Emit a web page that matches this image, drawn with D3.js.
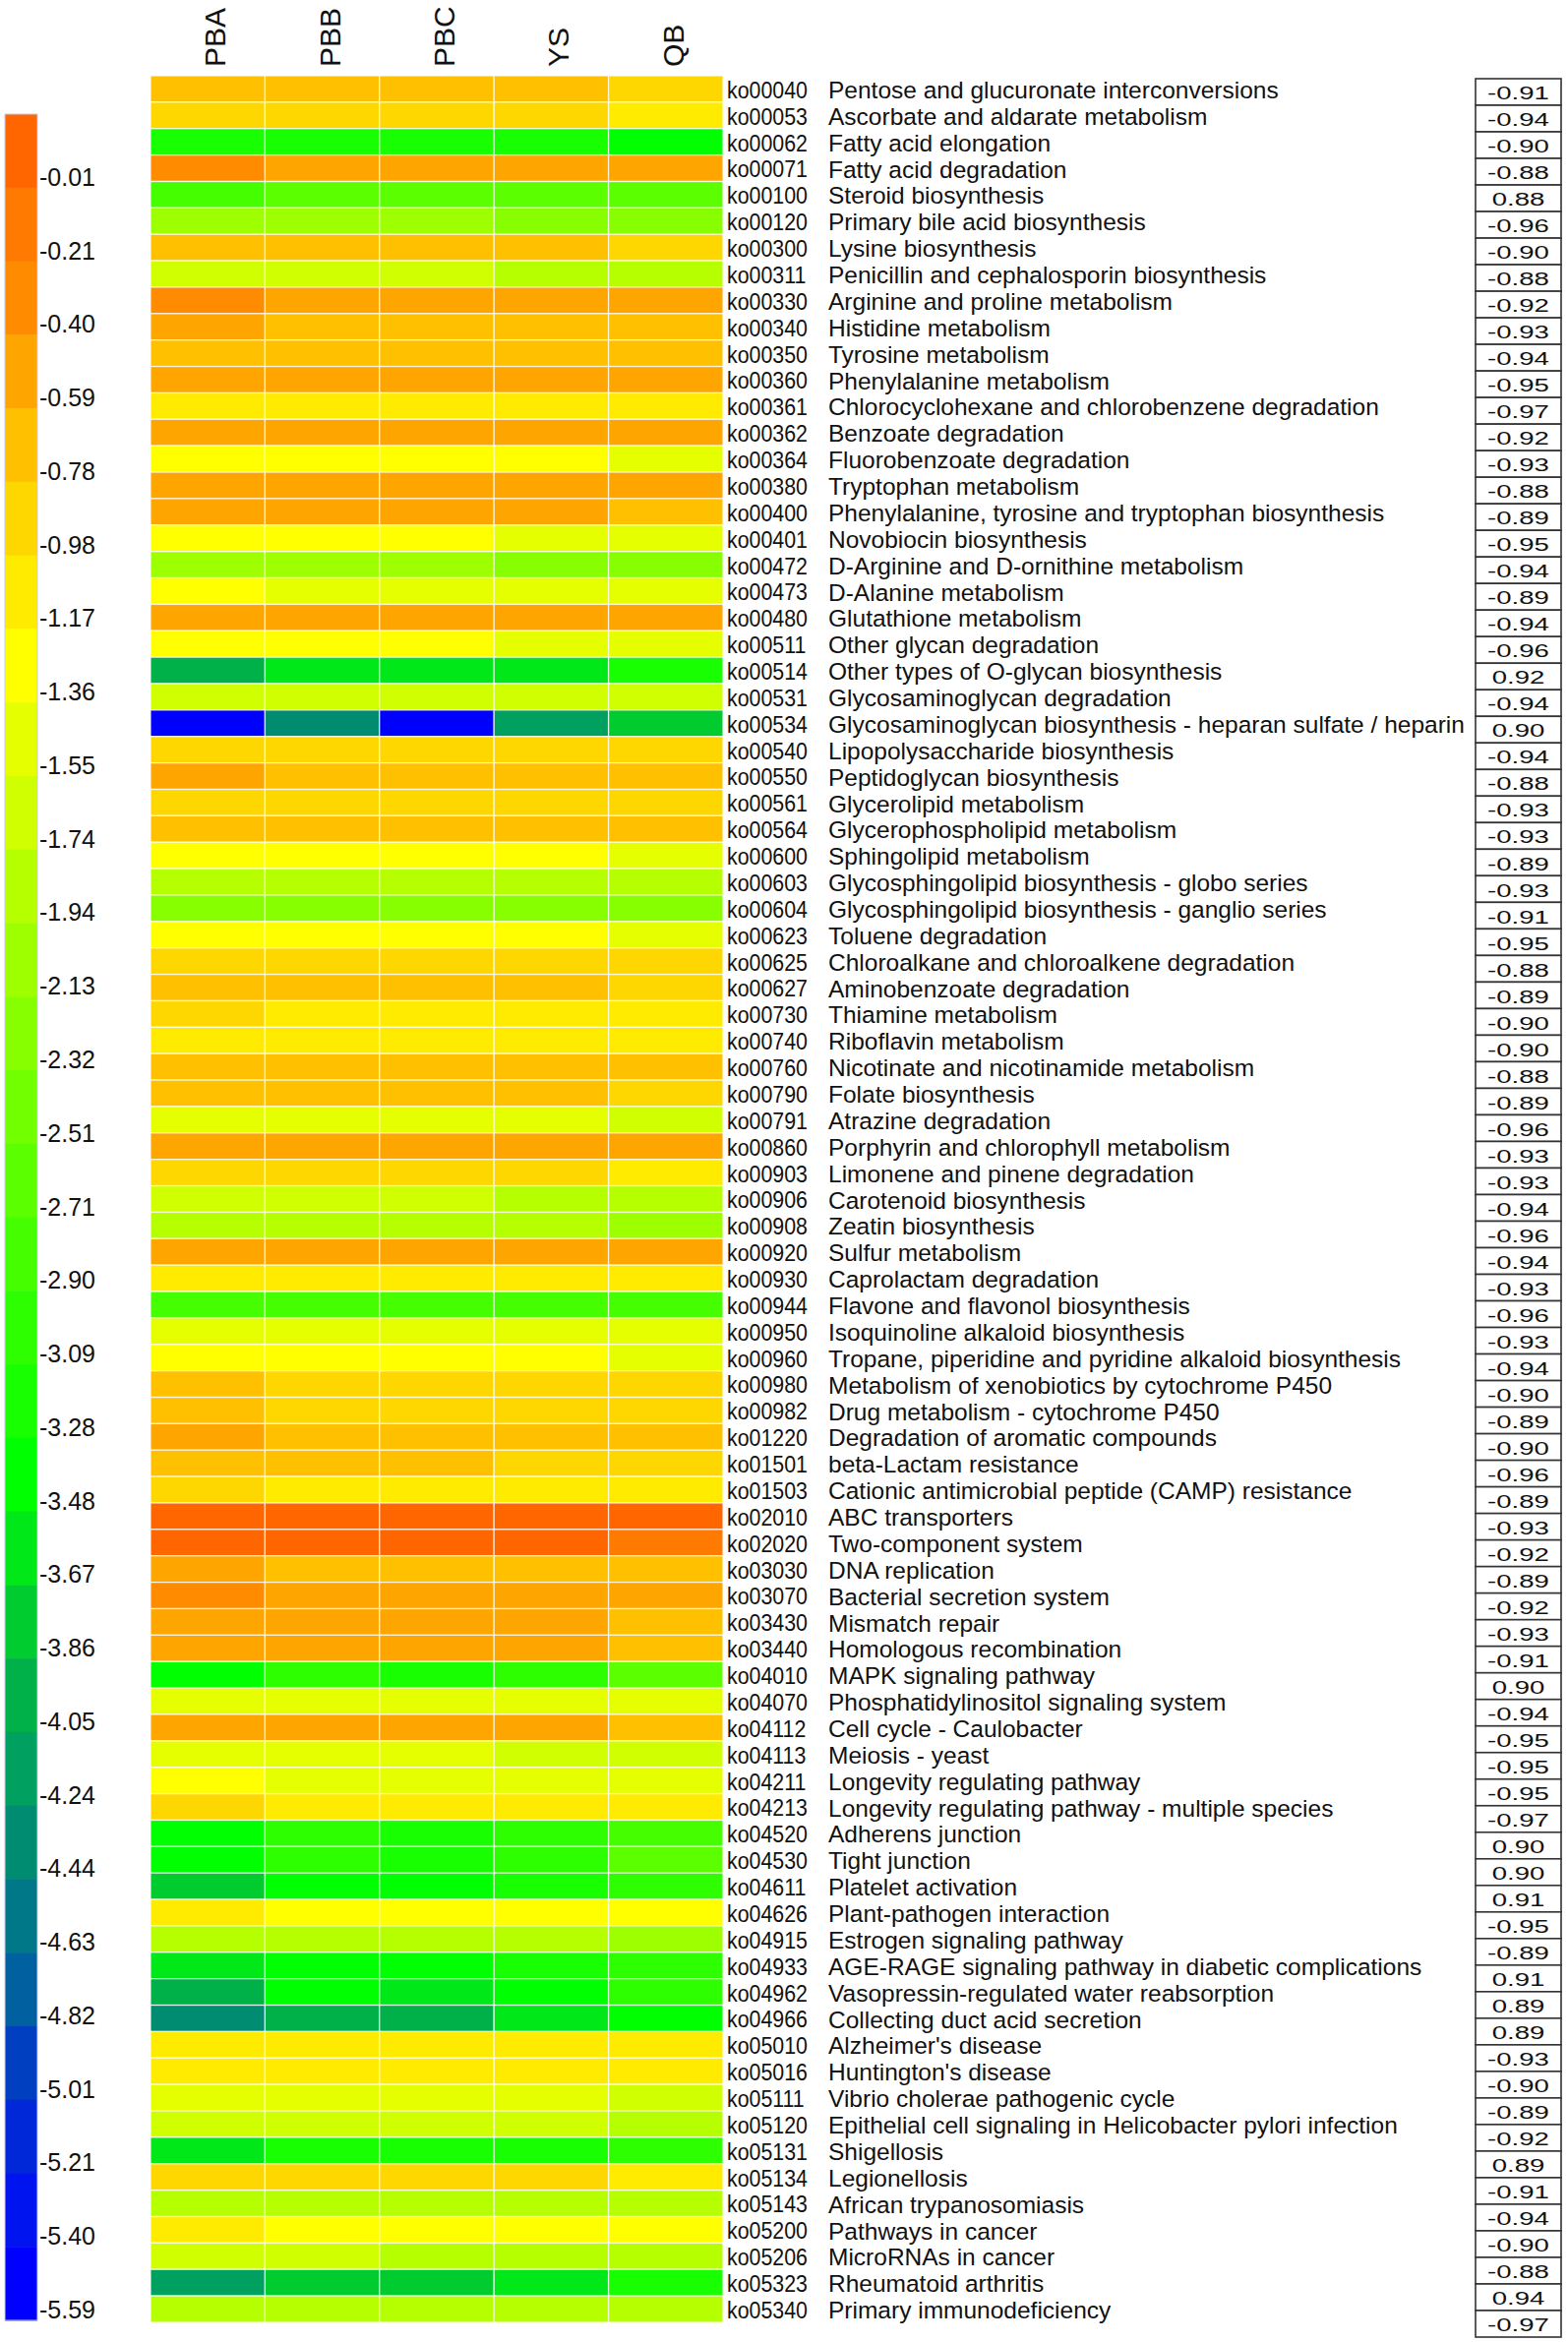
<!DOCTYPE html>
<html><head><meta charset="utf-8">
<script src="https://cdn.jsdelivr.net/npm/d3@7"></script>
<style>html,body{margin:0;padding:0;background:#fff;} svg{display:block;}</style>
</head><body><svg id="chart" width="1594" height="2381"></svg>
<script>
const samples = ["PBA","PBB","PBC","YS","QB"];
const koIds = ["ko00040","ko00053","ko00062","ko00071","ko00100","ko00120","ko00300","ko00311","ko00330","ko00340",
"ko00350","ko00360","ko00361","ko00362","ko00364","ko00380","ko00400","ko00401","ko00472","ko00473",
"ko00480","ko00511","ko00514","ko00531","ko00534","ko00540","ko00550","ko00561","ko00564","ko00600",
"ko00603","ko00604","ko00623","ko00625","ko00627","ko00730","ko00740","ko00760","ko00790","ko00791",
"ko00860","ko00903","ko00906","ko00908","ko00920","ko00930","ko00944","ko00950","ko00960","ko00980",
"ko00982","ko01220","ko01501","ko01503","ko02010","ko02020","ko03030","ko03070","ko03430","ko03440",
"ko04010","ko04070","ko04112","ko04113","ko04211","ko04213","ko04520","ko04530","ko04611","ko04626",
"ko04915","ko04933","ko04962","ko04966","ko05010","ko05016","ko05111","ko05120","ko05131","ko05134",
"ko05143","ko05200","ko05206","ko05323","ko05340"];
const pathways = ["Pentose and glucuronate interconversions","Ascorbate and aldarate metabolism","Fatty acid elongation","Fatty acid degradation","Steroid biosynthesis","Primary bile acid biosynthesis","Lysine biosynthesis","Penicillin and cephalosporin biosynthesis","Arginine and proline metabolism","Histidine metabolism",
"Tyrosine metabolism","Phenylalanine metabolism","Chlorocyclohexane and chlorobenzene degradation","Benzoate degradation","Fluorobenzoate degradation","Tryptophan metabolism","Phenylalanine, tyrosine and tryptophan biosynthesis","Novobiocin biosynthesis","D-Arginine and D-ornithine metabolism","D-Alanine metabolism",
"Glutathione metabolism","Other glycan degradation","Other types of O-glycan biosynthesis","Glycosaminoglycan degradation","Glycosaminoglycan biosynthesis - heparan sulfate / heparin","Lipopolysaccharide biosynthesis","Peptidoglycan biosynthesis","Glycerolipid metabolism","Glycerophospholipid metabolism","Sphingolipid metabolism",
"Glycosphingolipid biosynthesis - globo series","Glycosphingolipid biosynthesis - ganglio series","Toluene degradation","Chloroalkane and chloroalkene degradation","Aminobenzoate degradation","Thiamine metabolism","Riboflavin metabolism","Nicotinate and nicotinamide metabolism","Folate biosynthesis","Atrazine degradation",
"Porphyrin and chlorophyll metabolism","Limonene and pinene degradation","Carotenoid biosynthesis","Zeatin biosynthesis","Sulfur metabolism","Caprolactam degradation","Flavone and flavonol biosynthesis","Isoquinoline alkaloid biosynthesis","Tropane, piperidine and pyridine alkaloid biosynthesis","Metabolism of xenobiotics by cytochrome P450",
"Drug metabolism - cytochrome P450","Degradation of aromatic compounds","beta-Lactam resistance","Cationic antimicrobial peptide (CAMP) resistance","ABC transporters","Two-component system","DNA replication","Bacterial secretion system","Mismatch repair","Homologous recombination",
"MAPK signaling pathway","Phosphatidylinositol signaling system","Cell cycle - Caulobacter","Meiosis - yeast","Longevity regulating pathway","Longevity regulating pathway - multiple species","Adherens junction","Tight junction","Platelet activation","Plant-pathogen interaction",
"Estrogen signaling pathway","AGE-RAGE signaling pathway in diabetic complications","Vasopressin-regulated water reabsorption","Collecting duct acid secretion","Alzheimer's disease","Huntington's disease","Vibrio cholerae pathogenic cycle","Epithelial cell signaling in Helicobacter pylori infection","Shigellosis","Legionellosis",
"African trypanosomiasis","Pathways in cancer","MicroRNAs in cancer","Rheumatoid arthritis","Primary immunodeficiency"];
const corr = [-0.91,-0.94,-0.90,-0.88,0.88,-0.96,-0.90,-0.88,-0.92,-0.93,
-0.94,-0.95,-0.97,-0.92,-0.93,-0.88,-0.89,-0.95,-0.94,-0.89,
-0.94,-0.96,0.92,-0.94,0.90,-0.94,-0.88,-0.93,-0.93,-0.89,
-0.93,-0.91,-0.95,-0.88,-0.89,-0.90,-0.90,-0.88,-0.89,-0.96,
-0.93,-0.93,-0.94,-0.96,-0.94,-0.93,-0.96,-0.93,-0.94,-0.90,
-0.89,-0.90,-0.96,-0.89,-0.93,-0.92,-0.89,-0.92,-0.93,-0.91,
0.90,-0.94,-0.95,-0.95,-0.95,-0.97,0.90,0.90,0.91,-0.95,
-0.89,0.91,0.89,0.89,-0.93,-0.90,-0.89,-0.92,0.89,-0.91,
-0.94,-0.90,-0.88,0.94,-0.97];
const PBA = [-0.68,-0.88,-3.18,-0.30,-2.80,-2.03,-0.68,-1.64,-0.30,-0.49,
-0.68,-0.49,-1.07,-0.49,-1.26,-0.49,-0.49,-1.26,-2.03,-1.26,
-0.49,-1.26,-3.95,-1.64,-5.49,-0.88,-0.49,-0.88,-0.68,-1.26,
-1.84,-2.22,-1.26,-0.88,-0.68,-0.88,-1.07,-0.68,-0.68,-1.45,
-0.49,-0.88,-1.64,-1.84,-0.49,-1.07,-2.80,-1.45,-1.26,-0.68,
-0.68,-0.49,-0.68,-0.88,0.08,0.08,-0.49,-0.30,-0.49,-0.49,
-3.38,-1.45,-0.49,-1.45,-1.26,-0.88,-3.38,-3.38,-3.76,-1.07,
-1.84,-3.57,-3.95,-4.34,-1.07,-1.07,-1.45,-1.64,-3.57,-0.88,
-1.84,-1.07,-1.64,-4.14,-1.84];
const PBB = [-0.68,-0.88,-3.18,-0.49,-2.61,-2.03,-0.68,-1.64,-0.49,-0.68,
-0.68,-0.49,-1.07,-0.49,-1.26,-0.49,-0.49,-1.26,-2.03,-1.45,
-0.49,-1.26,-3.57,-1.64,-4.34,-0.88,-0.68,-0.88,-0.68,-1.26,
-1.84,-2.22,-1.26,-0.88,-0.68,-1.07,-1.07,-0.68,-0.68,-1.45,
-0.49,-0.88,-1.64,-1.84,-0.49,-1.07,-2.80,-1.45,-1.26,-0.88,
-0.88,-0.68,-0.68,-1.07,0.08,0.08,-0.68,-0.49,-0.49,-0.49,
-2.99,-1.45,-0.49,-1.45,-1.45,-1.07,-2.99,-2.99,-3.38,-1.26,
-1.84,-3.38,-3.38,-3.95,-1.07,-1.07,-1.45,-1.64,-3.18,-0.88,
-1.84,-1.26,-1.64,-3.76,-1.84];
const PBC = [-0.68,-0.88,-3.18,-0.49,-2.61,-2.03,-0.68,-1.64,-0.49,-0.68,
-0.68,-0.49,-1.07,-0.49,-1.26,-0.49,-0.49,-1.26,-2.03,-1.45,
-0.49,-1.26,-3.57,-1.64,-5.49,-0.88,-0.68,-0.88,-0.68,-1.26,
-1.84,-2.22,-1.26,-0.88,-0.68,-1.07,-1.07,-0.68,-0.68,-1.45,
-0.49,-0.88,-1.64,-1.84,-0.49,-1.07,-2.80,-1.45,-1.26,-0.88,
-0.88,-0.68,-0.68,-1.07,0.08,0.08,-0.68,-0.49,-0.49,-0.49,
-3.18,-1.45,-0.49,-1.45,-1.45,-1.07,-3.18,-3.18,-3.38,-1.26,
-1.84,-3.38,-3.57,-3.95,-1.07,-1.07,-1.45,-1.64,-3.18,-0.88,
-1.84,-1.26,-1.84,-3.76,-1.84];
const YS = [-0.68,-0.88,-3.18,-0.49,-2.61,-2.22,-0.68,-1.84,-0.49,-0.68,
-0.68,-0.49,-1.07,-0.49,-1.26,-0.49,-0.49,-1.45,-2.22,-1.45,
-0.49,-1.45,-3.57,-1.64,-4.14,-0.88,-0.68,-0.88,-0.68,-1.26,
-1.84,-2.22,-1.26,-0.88,-0.68,-1.07,-1.07,-0.68,-0.68,-1.45,
-0.49,-0.88,-1.84,-1.84,-0.49,-1.07,-2.80,-1.45,-1.26,-0.88,
-0.88,-0.68,-0.88,-1.07,0.08,0.08,-0.68,-0.49,-0.49,-0.49,
-2.99,-1.45,-0.49,-1.64,-1.45,-1.07,-2.99,-2.99,-3.18,-1.26,
-1.84,-3.18,-3.38,-3.57,-1.07,-1.07,-1.45,-1.64,-3.18,-0.88,
-1.84,-1.26,-1.84,-3.57,-1.84];
const QB = [-0.88,-1.07,-3.38,-0.49,-2.61,-2.22,-0.88,-1.84,-0.49,-0.68,
-0.68,-0.49,-1.07,-0.49,-1.45,-0.49,-0.68,-1.45,-2.22,-1.45,
-0.49,-1.45,-3.18,-1.64,-3.76,-0.88,-0.68,-0.88,-0.68,-1.45,
-1.84,-2.22,-1.45,-0.88,-0.88,-1.07,-1.07,-0.68,-0.88,-1.64,
-0.49,-1.07,-1.84,-2.03,-0.49,-1.07,-2.80,-1.45,-1.45,-0.88,
-0.88,-0.68,-0.88,-1.07,0.08,-0.11,-0.68,-0.49,-0.68,-0.68,
-2.61,-1.45,-0.68,-1.64,-1.45,-1.07,-2.80,-2.61,-2.99,-1.26,
-2.03,-2.99,-2.99,-3.38,-1.07,-1.07,-1.64,-1.84,-2.99,-1.07,
-1.84,-1.26,-1.84,-3.18,-1.84];
const legendTicks = [-0.01,-0.21,-0.40,-0.59,-0.78,-0.98,-1.17,-1.36,-1.55,-1.74,
-1.94,-2.13,-2.32,-2.51,-2.71,-2.90,-3.09,-3.28,-3.48,-3.67,
-3.86,-4.05,-4.24,-4.44,-4.63,-4.82,-5.01,-5.21,-5.40,-5.59];
const legendColors = ["#ff6600","#ff7a00","#ff8c00","#ffa500","#ffc000","#ffd700","#ffeb00","#ffff00","#e6ff00","#cfff00",
"#b5ff00","#9eff00","#88ff00","#72ff00","#5cff00","#45ff00","#2eff00","#17ff00","#00ff00","#00e818",
"#00cc30","#00b048","#00a060","#008c70","#007888","#0060a0","#0040c0","#0028d8","#0014f0","#0000ff"];

const series = {PBA, PBB, PBC, YS, QB};
const cells = [];
koIds.forEach((k, i) => samples.forEach(s => cells.push({ko: k, sample: s, value: series[s][i]})));
const fmt2 = v => v.toFixed(2);

const svg = d3.select("#chart");
const x = d3.scaleBand().domain(samples).range([153, 735]);
const y = d3.scaleBand().domain(koIds).range([77, 2361]);
const yBox = d3.scaleBand().domain(koIds).range([80, 2376]);
const color = d3.scaleThreshold()
  .domain(legendTicks.slice(0, legendTicks.length - 1).reverse())
  .range(legendColors.slice().reverse());

// heatmap cells
svg.append("g").selectAll("rect").data(cells).join("rect")
  .attr("x", d => x(d.sample)).attr("y", d => y(d.ko))
  .attr("width", x.bandwidth()).attr("height", y.bandwidth())
  .attr("fill", d => color(d.value))
  .attr("stroke", "#ffffff").attr("stroke-opacity", 0.75).attr("stroke-width", 1.3);

// column labels
svg.append("g").selectAll("text").data(samples).join("text")
  .attr("transform", d => `translate(${x(d) + x.bandwidth()/2 + 18},68) rotate(-90)`)
  .attr("font-family", "Liberation Sans, Arial, sans-serif").attr("font-size", 30)
  .attr("fill", "#111").text(d => d);

// row ko labels
svg.append("g").selectAll("text").data(koIds).join("text")
  .attr("transform", d => `translate(739,${y(d) + y.bandwidth()/2 + 1}) scale(0.89,1)`)
  .attr("dy", "0.35em")
  .attr("font-family", "Liberation Sans, Arial, sans-serif").attr("font-size", 24)
  .attr("fill", "#111").text(d => d);

// pathway names
svg.append("g").selectAll("text").data(koIds).join("text")
  .attr("x", 842).attr("y", d => y(d) + y.bandwidth()/2 + 1)
  .attr("dy", "0.35em")
  .attr("font-family", "Liberation Sans, Arial, sans-serif").attr("font-size", 24.5)
  .attr("fill", "#111").text((d, i) => pathways[i]);

// correlation boxes
const boxes = svg.append("g");
boxes.selectAll("rect").data(koIds).join("rect")
  .attr("x", 1500).attr("y", d => yBox(d))
  .attr("width", 87).attr("height", yBox.bandwidth())
  .attr("fill", "#fff").attr("stroke", "#333").attr("stroke-width", 1.6);
boxes.selectAll("text").data(koIds).join("text")
  .attr("transform", d => `translate(1543.5,${yBox(d) + yBox.bandwidth()/2 + 1}) scale(1.45,1)`)
  .attr("dy", "0.35em").attr("text-anchor", "middle")
  .attr("font-family", "Liberation Sans, Arial, sans-serif").attr("font-size", 19)
  .attr("fill", "#111").text((d, i) => fmt2(corr[i]));

// color legend
const yLeg = d3.scaleBand().domain(d3.range(legendColors.length)).range([116, 2359]);
const leg = svg.append("g");
leg.selectAll("rect").data(legendColors).join("rect")
  .attr("x", 5).attr("y", (d, i) => yLeg(i))
  .attr("width", 33).attr("height", yLeg.bandwidth() + 0.5)
  .attr("fill", d => d);
leg.append("rect").attr("x", 5).attr("y", 116).attr("width", 33).attr("height", 2359 - 116)
  .attr("fill", "none").attr("stroke", "#c9c9e6").attr("stroke-width", 1);
leg.selectAll("text").data(legendTicks).join("text")
  .attr("x", 40).attr("y", (d, i) => yLeg(i) + yLeg.bandwidth() - 2)
  .attr("font-family", "Liberation Sans, Arial, sans-serif").attr("font-size", 25)
  .attr("fill", "#111").text(d => fmt2(d));
</script>
</body></html>
